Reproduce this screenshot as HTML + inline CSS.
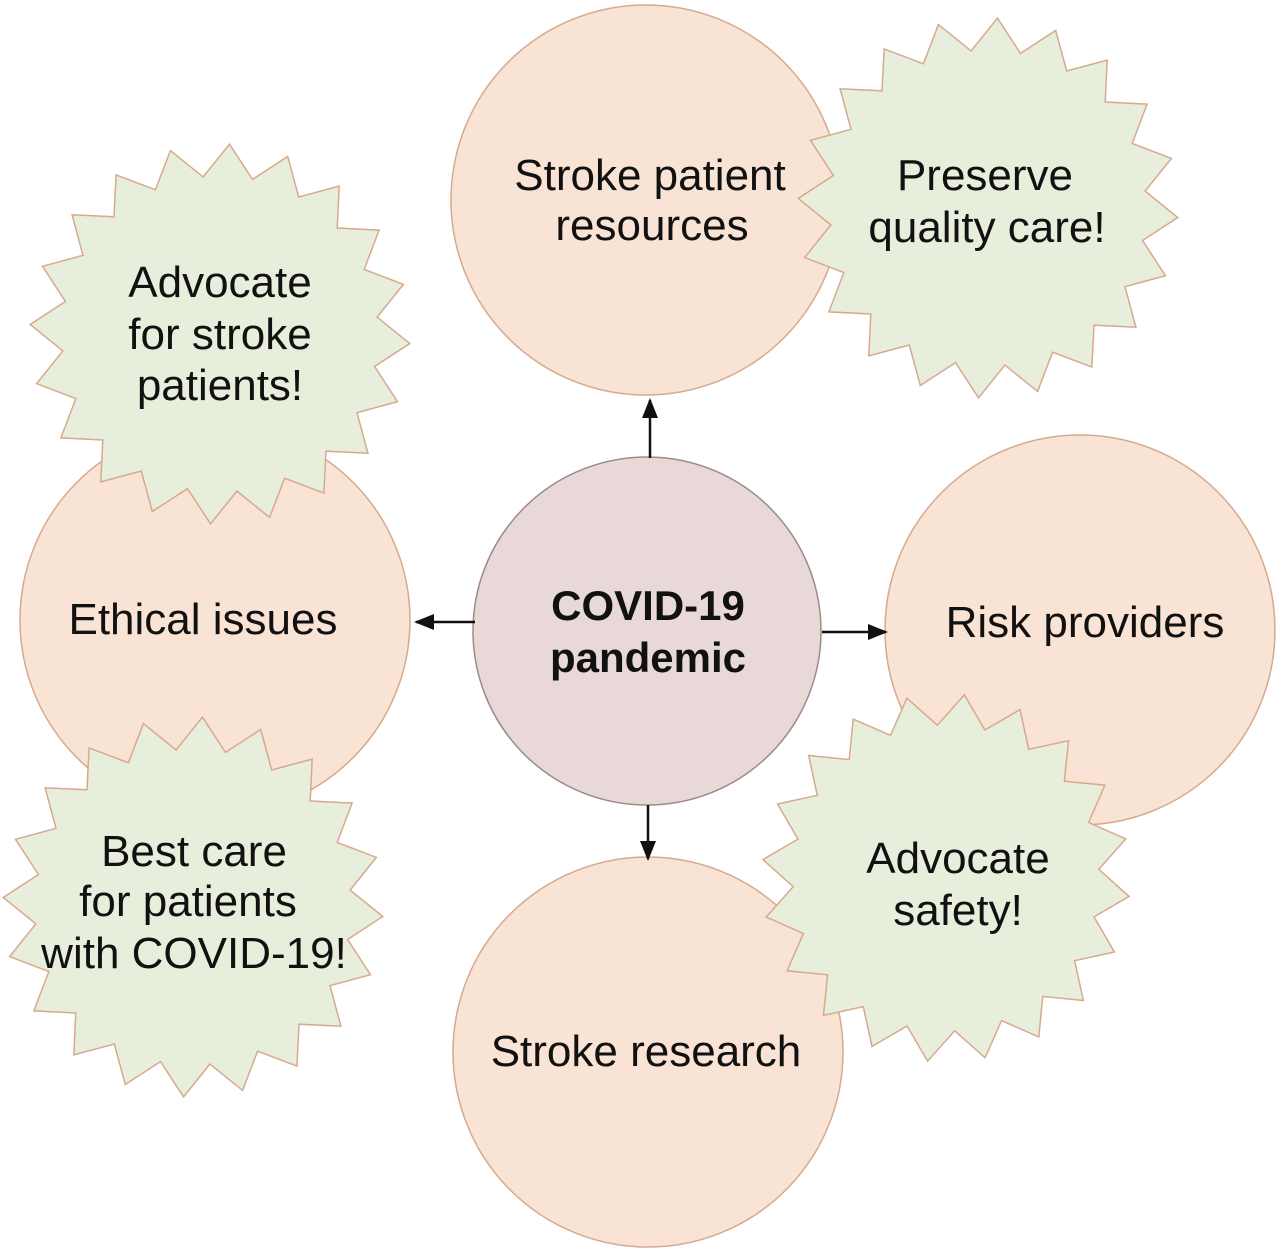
<!DOCTYPE html>
<html><head><meta charset="utf-8"><style>
html,body{margin:0;padding:0;background:#fff;}
svg{display:block;}
text{font-family:"Liberation Sans","DejaVu Sans",sans-serif;font-size:44px;fill:#111;text-anchor:middle;}
</style></head><body>
<svg id="s" width="1280" height="1252" viewBox="0 0 1280 1252" xmlns="http://www.w3.org/2000/svg">
<defs><marker id="a" markerWidth="20" markerHeight="20" refX="18" refY="8" orient="auto" markerUnits="userSpaceOnUse" viewBox="0 0 20 16"><path d="M0,0 L20,8 L0,16 z" fill="#111"/></marker></defs>
<g id="circ" fill="#f8e3d4" stroke="#d7a98e" stroke-width="1.5">
<circle cx="646" cy="200" r="195"/>
<circle cx="215" cy="620" r="195"/>
<circle cx="1080" cy="630" r="195"/>
<circle cx="648" cy="1052" r="195"/>
</g>
<g id="stars" fill="#e8eedc" stroke="#d7a98e" stroke-width="1.5"></g>
<circle cx="647" cy="631" r="174" fill="#e8d8d7" stroke="#a08a88" stroke-width="1.5"/>
<g stroke="#111" stroke-width="2.5" marker-end="url(#a)">
<line x1="650" y1="458" x2="650" y2="400"/>
<line x1="475" y1="622" x2="416" y2="622"/>
<line x1="822" y1="632" x2="886" y2="632"/>
<line x1="648" y1="805" x2="648" y2="859"/>
</g>
<g id="t">
<text x="650" y="190">Stroke patient</text>
<text x="652" y="240">resources</text>
<text x="985" y="190">Preserve</text>
<text x="987" y="242">quality care!</text>
<text x="220" y="297">Advocate</text>
<text x="220" y="349">for stroke</text>
<text x="220" y="400">patients!</text>
<text x="203" y="634">Ethical issues</text>
<text x="1085" y="637">Risk providers</text>
<text x="648" y="620" style="font-weight:bold;font-size:42px">COVID-19</text>
<text x="648" y="672" style="font-weight:bold;font-size:42px">pandemic</text>
<text x="194" y="866">Best care</text>
<text x="188" y="916">for patients</text>
<text x="194" y="968">with COVID-19!</text>
<text x="958" y="873">Advocate</text>
<text x="958" y="925">safety!</text>
<text x="646" y="1066">Stroke research</text>
</g>
</svg>
<script>
var g=document.getElementById('stars');
function star(cx,cy,R,r,n,rot){var p=[];for(var i=0;i<2*n;i++){var a=rot+Math.PI*i/n;var rr=i%2?r:R;p.push((cx+rr*Math.sin(a)).toFixed(1)+','+(cy-rr*Math.cos(a)).toFixed(1));}
var e=document.createElementNS('http://www.w3.org/2000/svg','polygon');e.setAttribute('points',p.join(' '));g.appendChild(e);}
star(988,208,190,158,20,0.05);
star(220,334,190,158,20,0.05);
star(193,907,190,158,20,0.05);
star(946,878,184,153,20,0.1);
</script>
</body></html>
